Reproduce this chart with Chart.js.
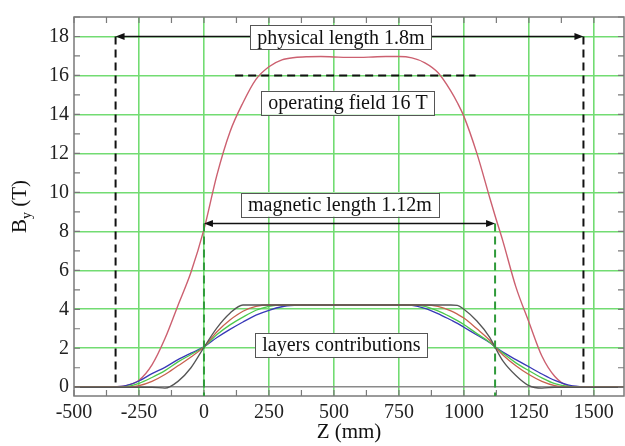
<!DOCTYPE html>
<html>
<head>
<meta charset="utf-8">
<script src="https://cdn.jsdelivr.net/npm/chart.js@4.4.0/dist/chart.umd.min.js"></script>
<style>
  html, body { margin: 0; padding: 0; background: #fff; }
  #wrap { position: relative; width: 625px; height: 446px; }
</style>
</head>
<body>
<div id="wrap"><canvas id="fieldChart"></canvas></div>
<script>
// z positions (mm) shared by every curve
const zPos = [-500,-450,-400,-350,-300,-250,-200,-150,-100,-50,
  0,50,100,150,200,250,300,350,400,450,
  500,550,600,650,700,750,800,850,900,950,
  975,1000,1050,1100,1120,1150,1200,1250,1300,1350,
  1400,1450,1500,1550,1600,1620];

// total field By (T)
const fieldTotal = [0,0,0,0.02,0.08,0.36,1.15,2.5,4.2,5.9,
  8.1,10.9,13.1,14.6,15.8,16.45,16.8,16.92,16.96,16.97,
  16.95,16.93,16.93,16.95,16.97,16.97,16.9,16.65,16.15,15.2,
  14.6,13.9,12.0,9.7,8.8,7.5,5.15,3.35,1.6,0.55,
  0.08,0.02,0,0,0,0];

// layer contributions (T)
const layerBlack = [0,0,0,0,0,0,0,-0.05,0.3,1.0,
  2.05,3.05,3.8,4.22,4.22,4.22,4.22,4.22,4.22,4.22,
  4.22,4.22,4.22,4.22,4.22,4.22,4.22,4.22,4.22,4.22,
  4.2,4.0,3.4,2.55,2.05,1.35,0.6,0.08,-0.05,0,
  0,0,0,0,0,0];
const layerOrange = [0,0,0,0,0,0.08,0.3,0.65,1.1,1.55,
  2.07,2.85,3.45,3.9,4.15,4.22,4.22,4.22,4.22,4.22,
  4.22,4.22,4.22,4.22,4.22,4.22,4.22,4.22,4.15,3.92,
  3.75,3.55,3.0,2.4,2.07,1.65,1.1,0.65,0.3,0.08,
  0,0,0,0,0,0];
const layerGreen = [0,0,0,0,0.03,0.2,0.5,0.85,1.3,1.68,
  2.07,2.7,3.2,3.6,3.95,4.15,4.22,4.22,4.22,4.22,
  4.22,4.22,4.22,4.22,4.22,4.22,4.22,4.15,3.92,3.6,
  3.42,3.22,2.75,2.3,2.07,1.75,1.25,0.85,0.48,0.18,
  0.04,0,0,0,0,0];
const layerBlue = [0,0,0,0.01,0.08,0.32,0.7,1.02,1.42,1.75,
  2.07,2.55,2.97,3.35,3.7,3.95,4.13,4.2,4.22,4.22,
  4.22,4.22,4.22,4.22,4.22,4.22,4.2,4.05,3.78,3.45,
  3.28,3.08,2.68,2.28,2.07,1.8,1.42,1.05,0.68,0.35,
  0.12,0.03,0,0,0,0];

// axis ticks
const xTickValues = [-500,-250,0,250,500,750,1000,1250,1500];
const yTickValues = [0,2,4,6,8,10,12,14,16,18];

// annotations (data units)
const physicalEnds = [-340, 1460];
const physicalLevel = 18;
const magneticEnds = [0, 1120];
const magneticLevel = 8.4;
const operatingSpan = [120, 1045];
const operatingLevel = 16;

const SERIF = '"Liberation Serif", "DejaVu Serif", "Noto Serif", Tinos, serif';

const pts = ys => zPos.map((z, i) => ({ x: z, y: ys[i] }));

function arrowHead(ctx, x, y, dir) {
  ctx.beginPath();
  ctx.moveTo(x, y);
  ctx.lineTo(x - dir * 9, y - 3.5);
  ctx.lineTo(x - dir * 9, y + 3.5);
  ctx.closePath();
  ctx.fill();
}

function labelBox(ctx, text, cx, cy) {
  ctx.font = '20px ' + SERIF;
  const w = ctx.measureText(text).width + 14;
  const h = 24;
  ctx.fillStyle = '#fff';
  ctx.fillRect(cx - w / 2, cy - h / 2, w, h);
  ctx.strokeStyle = '#555';
  ctx.lineWidth = 1;
  ctx.setLineDash([]);
  ctx.strokeRect(Math.round(cx - w / 2) + 0.5, Math.round(cy - h / 2) + 0.5, Math.round(w), h);
  ctx.fillStyle = '#111';
  ctx.textAlign = 'center';
  ctx.textBaseline = 'middle';
  ctx.fillText(text, cx, cy + 1);
}

const decor = {
  id: 'decor',
  afterDatasetsDraw(chart) {
    const { ctx, chartArea: a, scales: { x, y } } = chart;
    ctx.save();

    // frame
    ctx.strokeStyle = '#7a7a7a';
    ctx.lineWidth = 1.5;
    ctx.setLineDash([]);
    ctx.strokeRect(a.left, a.top, a.right - a.left, a.bottom - a.top);

    // minor ticks, inward
    ctx.lineWidth = 1.2;
    for (let v = -500; v <= 1600; v += 125) {
      const px = x.getPixelForValue(v);
      if (px > a.right) break;
      ctx.beginPath();
      ctx.moveTo(px, a.bottom); ctx.lineTo(px, a.bottom - 6);
      ctx.moveTo(px, a.top); ctx.lineTo(px, a.top + 6);
      ctx.stroke();
    }
    for (let v = 0; v <= 19; v += 1) {
      const py = y.getPixelForValue(v);
      ctx.beginPath();
      ctx.moveTo(a.left, py); ctx.lineTo(a.left + 6, py);
      ctx.moveTo(a.right, py); ctx.lineTo(a.right - 6, py);
      ctx.stroke();
    }

    // black dashed verticals (physical length)
    ctx.strokeStyle = '#111';
    ctx.lineWidth = 2;
    ctx.setLineDash([8, 5]);
    physicalEnds.forEach(v => {
      const px = x.getPixelForValue(v);
      ctx.beginPath();
      ctx.moveTo(px, y.getPixelForValue(physicalLevel));
      ctx.lineTo(px, y.getPixelForValue(0));
      ctx.stroke();
    });

    // operating field dashed line
    ctx.beginPath();
    ctx.moveTo(x.getPixelForValue(operatingSpan[0]), y.getPixelForValue(operatingLevel));
    ctx.lineTo(x.getPixelForValue(operatingSpan[1]), y.getPixelForValue(operatingLevel));
    ctx.stroke();

    // green dashed verticals (magnetic length)
    ctx.strokeStyle = '#2f9a3a';
    magneticEnds.forEach(v => {
      const px = x.getPixelForValue(v);
      ctx.beginPath();
      ctx.moveTo(px, y.getPixelForValue(magneticLevel));
      ctx.lineTo(px, a.bottom);
      ctx.stroke();
    });

    // arrows
    ctx.setLineDash([]);
    ctx.strokeStyle = '#111';
    ctx.fillStyle = '#111';
    ctx.lineWidth = 1.6;
    [[physicalEnds, physicalLevel], [magneticEnds, magneticLevel]].forEach(([ends, lvl]) => {
      const x0 = x.getPixelForValue(ends[0]);
      const x1 = x.getPixelForValue(ends[1]);
      const py = y.getPixelForValue(lvl);
      ctx.beginPath();
      ctx.moveTo(x0 + 6, py); ctx.lineTo(x1 - 6, py);
      ctx.stroke();
      arrowHead(ctx, x0, py, -1);
      arrowHead(ctx, x1, py, 1);
    });

    // label boxes
    labelBox(ctx, 'physical length 1.8m', x.getPixelForValue(527), y.getPixelForValue(17.95));
    labelBox(ctx, 'operating field 16 T', x.getPixelForValue(554), y.getPixelForValue(14.6));
    labelBox(ctx, 'magnetic length 1.12m', x.getPixelForValue(523), y.getPixelForValue(9.37));
    labelBox(ctx, 'layers contributions', x.getPixelForValue(529), y.getPixelForValue(2.17));

    // axis titles
    ctx.fillStyle = '#111';
    ctx.textBaseline = 'middle';
    ctx.textAlign = 'center';
    ctx.font = '21px ' + SERIF;
    ctx.fillText('Z (mm)', (a.left + a.right) / 2, 432);

    ctx.translate(20, (a.top + a.bottom) / 2);
    ctx.rotate(-Math.PI / 2);
    ctx.textAlign = 'left';
    const big = '21px ' + SERIF, small = '14px ' + SERIF;
    ctx.font = big; const wB = ctx.measureText('B').width;
    ctx.font = small; const wy = ctx.measureText('y').width;
    ctx.font = big; const wT = ctx.measureText(' (T)').width;
    let sx = -(wB + wy + wT) / 2;
    ctx.font = big; ctx.fillText('B', sx, 0); sx += wB;
    ctx.font = small; ctx.fillText('y', sx, 7); sx += wy;
    ctx.font = big; ctx.fillText(' (T)', sx, 0);

    ctx.restore();
  }
};

const lineDs = (label, ys, color, w) => ({
  label, data: pts(ys), borderColor: color, borderWidth: w,
  pointRadius: 0, cubicInterpolationMode: 'monotone', fill: false
});

function draw() {
  new Chart(document.getElementById('fieldChart'), {
    type: 'line',
    data: {
      datasets: [
        lineDs('layer 1', layerBlack, '#555555', 1.3),
        lineDs('layer 2', layerOrange, '#c8604e', 1.3),
        lineDs('layer 3', layerGreen, '#4cc84c', 1.3),
        lineDs('layer 4', layerBlue, '#3838b8', 1.3),
        lineDs('total', fieldTotal, '#cc6070', 1.4)
      ]
    },
    options: {
      responsive: true, maintainAspectRatio: false, animation: false,
      layout: { padding: { top: 9, right: 1, left: 0, bottom: 0 } },
      plugins: { legend: { display: false }, tooltip: { enabled: false } },
      scales: {
        x: {
          type: 'linear', min: -500, max: 1616,
          afterBuildTicks: s => { s.ticks = xTickValues.map(v => ({ value: v })); },
          afterFit: s => { s.height = 50; },
          grid: { color: c => c.tick && c.tick.value === -500 ? 'rgba(0,0,0,0)' : '#72dc72', lineWidth: 1.6, drawTicks: false },
          border: { display: false },
          ticks: { autoSkip: false, maxRotation: 0, padding: 5, color: '#222',
            font: { family: SERIF, size: 20 }, callback: v => String(v) }
        },
        y: {
          min: -0.45, max: 19,
          afterBuildTicks: s => { s.ticks = yTickValues.map(v => ({ value: v })); },
          afterFit: s => { s.width = 74; },
          grid: { color: c => c.tick && c.tick.value === 0 ? '#8a8a8a' : '#72dc72', lineWidth: 1.6, drawTicks: false },
          border: { display: false },
          ticks: { autoSkip: false, padding: 5, color: '#222',
            font: { family: SERIF, size: 20 }, callback: v => String(v) }
        }
      }
    },
    plugins: [decor]
  });
}

Promise.all([
  document.fonts.load('20px "Liberation Serif"'),
  document.fonts.load('20px "DejaVu Serif"')
]).catch(() => {}).then(draw);
</script>
</body>
</html>
